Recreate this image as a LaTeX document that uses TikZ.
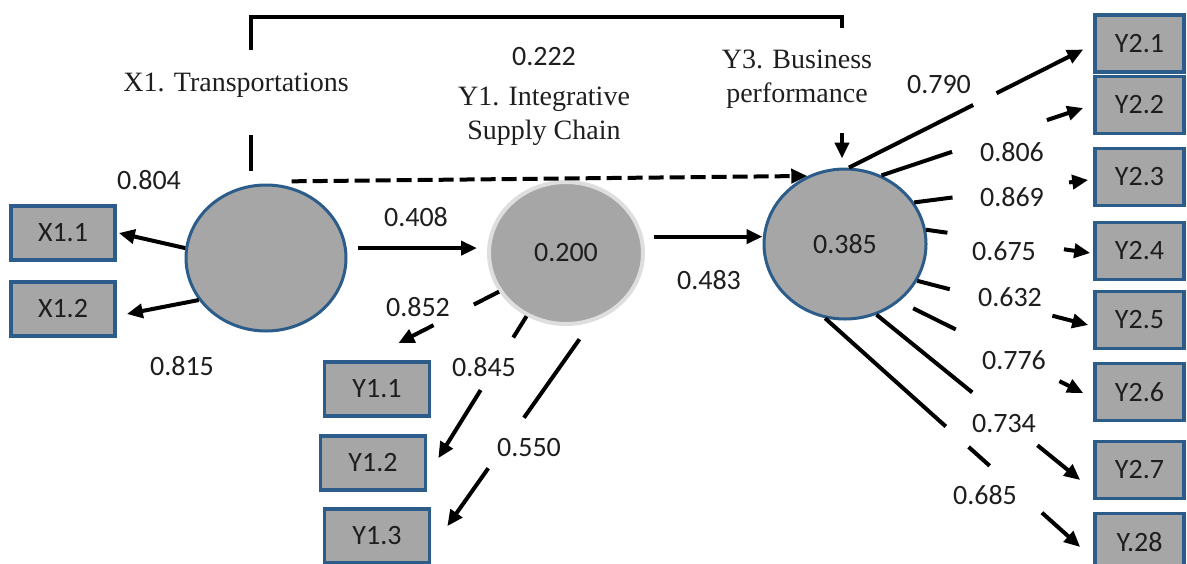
\documentclass[tikz,border=0pt]{standalone}
\usepackage{fontspec}
\setmainfont{Liberation Serif}
\newfontfamily\calib{Carlito}
\usetikzlibrary{arrows.meta,shapes.geometric,calc}
\definecolor{latfill}{HTML}{A6A6A6}
\definecolor{edgeblue}{HTML}{2B5C8A}
\definecolor{inkgray}{HTML}{1E1E1E}

% a path from #2 to #3 that is broken between the fractions #4 and #5
\newcommand\linkgap[5][arr]{%
  \path #2 -- coordinate[pos=#4] (gapA) coordinate[pos=#5] (gapB) #3;
  \draw[link] #2 -- (gapA);
  \draw[#1] (gapB) -- #3;}

\begin{document}
\begin{tikzpicture}[x=0.5pt,y=-0.5pt,
  latent/.style={ellipse, fill=latfill, draw=edgeblue, line width=1.5pt, inner sep=0pt,
    font=\calib\fontsize{14}{16}\selectfont, text=inkgray},
  indic/.style={rectangle, fill=latfill, draw=edgeblue, line width=1.8pt,
    minimum width=52pt, minimum height=27pt, inner sep=0pt,
    font=\calib\fontsize{14}{16}\selectfont, text=inkgray},
  indicR/.style={indic, minimum width=44.5pt, minimum height=28.5pt},
  coef/.style={font=\calib\fontsize{14}{16}\selectfont, text=inkgray, inner sep=0pt},
  construct/.style={font=\fontsize{14}{17}\selectfont, align=center, text=inkgray, inner sep=0pt},
  link/.style={line width=2pt, draw=black},
  arr/.style={link, -{Triangle[length=8pt,width=7pt]}},
]
\useasboundingbox (0,0) rectangle (1187,563);

% latent variables
\node[latent, minimum width=80pt, minimum height=73pt] (X1) at (266,258) {};
\node[latent, draw=black!13, line width=2pt, minimum width=77pt, minimum height=71pt] (Y1) at (566,253) {0.200};
\node[latent, minimum width=81pt, minimum height=75pt] (Y3) at (845,244) {0.385};

% indicators
\node[indic] (X11) at (63,233) {X1.1};
\node[indic] (X12) at (63,309) {X1.2};
\node[indic, minimum width=52.5pt] (Y11) at (377,389) {Y1.1};
\node[indic, minimum width=52.5pt] (Y12) at (373,463) {Y1.2};
\node[indic, minimum width=52.5pt] (Y13) at (377,536) {Y1.3};
\node[indicR] (Y21) at (1139.5,43.5) {Y2.1};
\node[indicR] (Y22) at (1139.5,105) {Y2.2};
\node[indicR] (Y23) at (1139.5,177) {Y2.3};
\node[indicR] (Y24) at (1139.5,251) {Y2.4};
\node[indicR] (Y25) at (1139.5,320) {Y2.5};
\node[indicR] (Y26) at (1139.5,392) {Y2.6};
\node[indicR] (Y27) at (1139.5,470) {Y2.7};
\node[indicR] (Y28) at (1139.5,542) {Y.28};

% construct names
\node[construct] (tX1) at (236,85) {X1. Transportations};
\node[construct] (tY1) at (544,116) {Y1. Integrative\\Supply Chain};
\node[construct] (tY3) at (797,79) {Y3. Business\\performance};

% direct path X1 -> Y3 drawn as a bracket over the top
\coordinate (bs) at ([shift={(-15,-13)}]X1.north);
\coordinate (be) at ([shift={(-3,-9)}]Y3.north);
\draw[link] (bs) -- (bs |- 0,135);
\draw[link] (bs |- 0,50) -- (bs |- 0,17) -| (be |- 0,28);
\draw[arr] (be |- 0,133) -- (be);

% structural paths
\draw[arr, dash pattern=on 7.5pt off 3pt] ([yshift=3pt]X1.70) -- (Y3.119);
\draw[arr, shorten <=5.5pt, shorten >=5pt] (X1.7) -- (X1.7 -| Y1.west);
\draw[arr, shorten <=5.5pt] (Y1.12) -- (Y1.12 -| Y3.west);

% outer loadings of X1
\draw[arr] (X1.173) -- ([xshift=1pt]X11.east);
\draw[arr] (X1.212) -- ([shift={(10,5)}]X12.east);

% outer loadings of Y1
\linkgap{(Y1.210)}{([shift={(-33,-17)}]Y11.north east)}{0.25}{0.65}
\linkgap{(Y1.238)}{([shift={(11,24)}]Y12.north east)}{0.15}{0.52}
\linkgap{([shift={(2,14)}]Y1.279)}{([shift={(16,19)}]Y13.north east)}{0.42}{0.69}

% outer loadings of Y3
\linkgap{(Y3.87)}{([shift={(-10,6)}]Y21.west)}{0.53}{0.63}
\linkgap{(Y3.62)}{([shift={(-10,3)}]Y22.west)}{0.35}{0.82}
\linkgap{(Y3.31)}{([shift={(-5,3)}]Y23.west)}{0.22}{0.89}
\linkgap{(Y3.10)}{([shift={(-3,2)}]Y24.west)}{0.13}{0.84}
\linkgap{(Y3.333)}{([shift={(-5,5)}]Y25.west)}{0.19}{0.79}
\linkgap{([shift={(10,10)}]Y3.317)}{([shift={(-10,1)}]Y26.west)}{0.25}{0.86}
\linkgap{(Y3.294)}{([shift={(-13,10)}]Y27.west)}{0.47}{0.79}
\path (Y3.255) -- coordinate[pos=0.473] (h1) coordinate[pos=0.5625] (h2)
  coordinate[pos=0.645] (h3) coordinate[pos=0.85] (h4) ([shift={(-13,5)}]Y28.west);
\draw[link] (Y3.255) -- (h1);
\draw[link] (h2) -- (h3);
\draw[arr] (h4) -- ([shift={(-13,5)}]Y28.west);

% coefficients
\node[coef] (c804) at (149,180) {0.804};
\node[coef] (c815) at (182,366) {0.815};
\node[coef] (c408) at (416,217) {0.408};
\node[coef] (c222) at (544,57) {0.222};
\node[coef] (c483) at (709,280) {0.483};
\node[coef] (c852) at (418,307) {0.852};
\node[coef] (c845) at (484,367) {0.845};
\node[coef] (c550) at (529,448) {0.550};
\node[coef] (c790) at (939,85) {0.790};
\node[coef] (c806) at (1012,152) {0.806};
\node[coef] (c869) at (1012,197) {0.869};
\node[coef] (c675) at (1004,251) {0.675};
\node[coef] (c632) at (1010,297) {0.632};
\node[coef] (c776) at (1014,360) {0.776};
\node[coef] (c734) at (1004,424) {0.734};
\node[coef] (c685) at (985,495) {0.685};
\end{tikzpicture}
\end{document}
